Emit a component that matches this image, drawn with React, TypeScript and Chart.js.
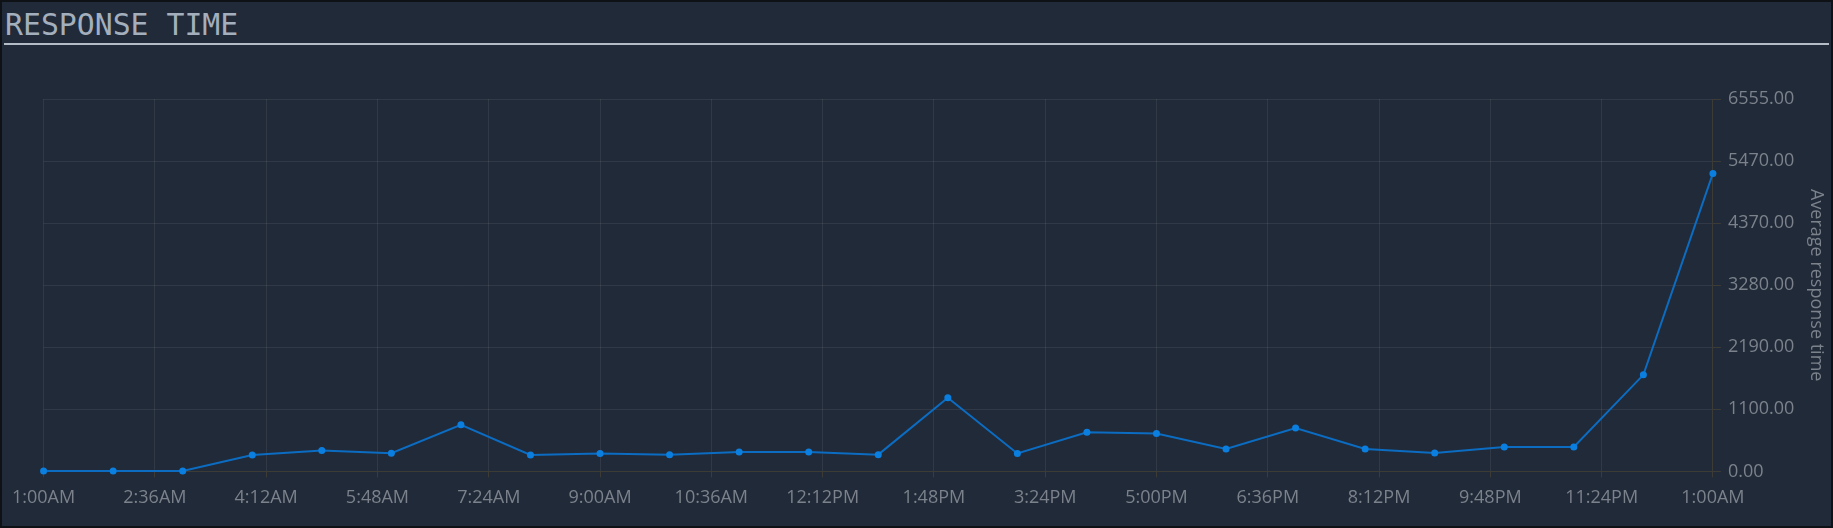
import React, { useEffect, useRef } from "react";
import { Chart, registerables } from "chart.js";

Chart.register(...registerables);

const titleText = "RESPONSE TIME";
const yAxisTitle = "Average response time";

// minutes after 1:00AM (hourly samples)
const pointMinutes = [
  0, 60, 120, 180, 240, 300, 360, 420, 480, 540, 600, 660, 720,
  780, 840, 900, 960, 1020, 1080, 1140, 1200, 1260, 1320, 1380, 1440,
];
const responseValues = [
  8, 8, 8, 290, 370, 320, 820, 290, 315, 295, 340, 340, 295,
  1295, 315, 690, 665, 395, 765, 395, 325, 430, 430, 1700, 5245,
];

const xTickLabels = [
  "1:00AM", "2:36AM", "4:12AM", "5:48AM", "7:24AM", "9:00AM", "10:36AM", "12:12PM",
  "1:48PM", "3:24PM", "5:00PM", "6:36PM", "8:12PM", "9:48PM", "11:24PM", "1:00AM",
];
const yTickLabels = ["0.00", "1100.00", "2190.00", "3280.00", "4370.00", "5470.00", "6555.00"];
const yMax = 6555;
const xMax = 1440;

export default function App() {
  const ref = useRef<HTMLCanvasElement | null>(null);

  useEffect(() => {
    document.body.style.margin = "0";
    document.body.style.background = "#212a38";
    const canvas = ref.current;
    if (!canvas) return;
    const chart = new Chart(canvas, {
      type: "line",
      data: {
        datasets: [
          {
            label: "Average response time",
            data: pointMinutes.map((m, i) => ({ x: m, y: responseValues[i] })),
            borderColor: "#0b6cc2",
            backgroundColor: "#0b7fe0",
            pointBackgroundColor: "#0b7fe0",
            pointBorderColor: "#0b7fe0",
            borderWidth: 2,
            pointRadius: 3.5,
            pointBorderWidth: 0,
            tension: 0,
            fill: false,
            clip: false,
          },
        ],
      },
      options: {
        animation: false,
        responsive: false,
        maintainAspectRatio: false,
        layout: { padding: { left: 7, right: 0, top: 97, bottom: 7 } },
        plugins: { legend: { display: false }, tooltip: { enabled: false } },
        scales: {
          x: {
            type: "linear",
            min: 0,
            max: xMax,
            ticks: {
              stepSize: 96,
              autoSkip: false,
              maxRotation: 0,
              padding: 10,
              color: "#7b828c",
              font: { family: "'Open Sans'", size: 18 },
              callback: (_v: any, i: number) => xTickLabels[i],
            },
            grid: { color: "rgba(255,255,255,0.075)", tickColor: "#3d3b36", tickLength: 6 },
            border: { color: "#3d3b36" },
          },
          y: {
            position: "right",
            min: 0,
            max: yMax,
            ticks: {
              stepSize: yMax / 6,
              padding: 7,
              color: "#7b828c",
              font: { family: "'Open Sans'", size: 18 },
              callback: (_v: any, i: number) => yTickLabels[i],
            },
            grid: { color: "rgba(255,255,255,0.075)", tickColor: "#3d3b36", tickLength: 8 },
            border: { color: "#3d3b36" },
            title: {
              display: true,
              text: yAxisTitle,
              color: "#7b828c",
              font: { family: "'Open Sans'", size: 18 },
              padding: { top: 4, bottom: 4 },
            },
          },
        },
      },
    });
    return () => chart.destroy();
  }, []);

  return (
    <div
      style={{
        position: "relative",
        width: 1833,
        height: 528,
        boxSizing: "border-box",
        border: "2px solid #0e1217",
        background: "#212a38",
        overflow: "hidden",
      }}
    >
      <div
        style={{
          position: "absolute",
          left: 3,
          top: 5,
          fontFamily: "'DejaVu Sans Mono', monospace",
          fontSize: 29.8,
          color: "#a4afbd",
          whiteSpace: "nowrap",
        }}
      >
        {titleText}
      </div>
      <div
        style={{
          position: "absolute",
          left: 2,
          right: 2,
          top: 41,
          height: 2,
          background: "#b4bcc8",
        }}
      />
      <canvas
        ref={ref}
        width={1829}
        height={524}
        style={{ position: "absolute", left: 0, top: 0, width: 1829, height: 524 }}
      />
    </div>
  );
}
